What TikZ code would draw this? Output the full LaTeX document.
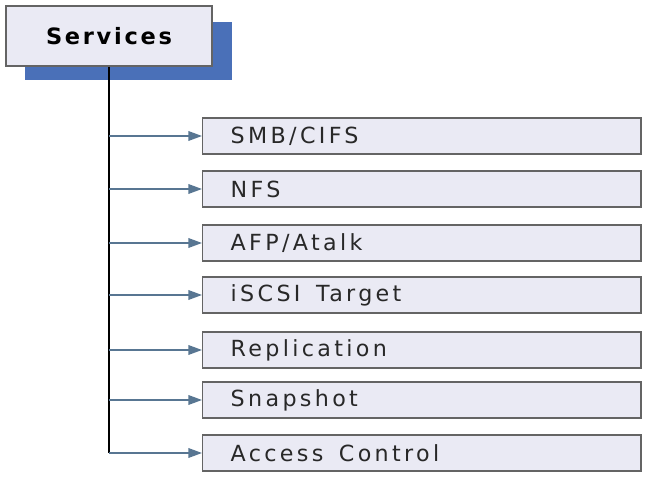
\documentclass[tikz,border=0pt]{standalone}
\usepackage{fontspec}
\setmainfont{DejaVu Sans}
\newfontfamily\itemfont[LetterSpace=15]{DejaVu Sans}
\newfontfamily\headfont[LetterSpace=12]{DejaVu Sans}
\usepackage{xcolor}
\usepackage{tikz}
\usetikzlibrary{positioning, arrows.meta, calc}
\definecolor{boxfill}{RGB}{234,234,244}
\definecolor{boxline}{RGB}{100,100,100}
\definecolor{shadowblue}{RGB}{74,112,184}
\definecolor{arrowblue}{RGB}{88,118,146}
\definecolor{itemtext}{RGB}{40,40,40}
\tikzset{
  head/.style ={draw=boxline, fill=boxfill, line width=1pt, minimum width=5.15cm,
                minimum height=1.5cm, font=\headfont\bfseries\fontsize{16}{18}\selectfont},
  item/.style ={draw=boxline, fill=boxfill, line width=1pt, anchor=west,
                text width=9.55cm, inner xsep=0.7cm, minimum height=0.9cm,
                align=left, text=itemtext, font=\itemfont\fontsize{15.8}{18}\selectfont},
  trunk/.style={line width=1.4pt, black},
  line/.style ={line width=1.1pt, arrowblue, -{Triangle[length=3.4mm, width=2.4mm]}}
}
\newcommand{\wsp}{\hspace{0.7em}}
\begin{document}
\begin{tikzpicture}[x=0.025cm, y=-0.025cm]
  \useasboundingbox (0,0) rectangle (646,478);

  % header with blue shadow
  \fill[shadowblue] (25,22) rectangle (232,80);
  \node[head] (serv) at (109,36) {Services};

  % items
  \node[item] (smb)  at (202,136) {SMB/CIFS};
  \node[item] (nfs)  at (202,189) {NFS};
  \node[item] (afp)  at (202,243) {AFP/Atalk};
  \node[item] (iscsi) at (202,295) {iSCSI\wsp Target};
  \node[item] (repl) at (202,350) {Replication};
  \node[item] (snap) at (202,400) {Snapshot};
  \node[item] (acc)  at (202,453) {Access\wsp Control};

  % trunk from header down to last item
  \draw[trunk] (serv.south) -- (serv.south |- acc.west) coordinate (end);

  % branches
  \draw[line] (serv.south |- smb.west)   -- (smb.west);
  \draw[line] (serv.south |- nfs.west)   -- (nfs.west);
  \draw[line] (serv.south |- afp.west)   -- (afp.west);
  \draw[line] (serv.south |- iscsi.west) -- (iscsi.west);
  \draw[line] (serv.south |- repl.west)  -- (repl.west);
  \draw[line] (serv.south |- snap.west)  -- (snap.west);
  \draw[line] (end) -- (acc.west);
\end{tikzpicture}
\end{document}
